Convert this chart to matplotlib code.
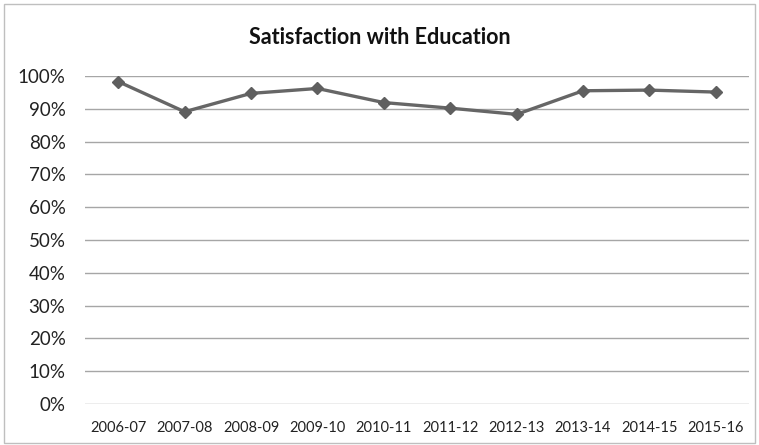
import matplotlib
matplotlib.use("Agg")
import matplotlib.pyplot as plt
from matplotlib.patches import Rectangle
from matplotlib.ticker import FuncFormatter, MultipleLocator

years = ["2006-07", "2007-08", "2008-09", "2009-10", "2010-11",
         "2011-12", "2012-13", "2013-14", "2014-15", "2015-16"]
satisfaction = [98.3, 89.1, 94.7, 96.2, 91.9, 90.2, 88.3, 95.5, 95.7, 95.1]

plt.rcParams["font.family"] = ["Lato", "DejaVu Sans"]

fig = plt.figure(figsize=(7.59, 4.45), dpi=100)
W, H = 759, 445
ax = fig.add_axes([85 / W, 1 - 404 / H, (749 - 85) / W, (404 - 76) / H])

x = list(range(len(years)))
ax.plot(x, satisfaction, color="#666666", linewidth=2.4, marker="D",
        markersize=6, markerfacecolor="#5f5f5f", markeredgecolor="#5f5f5f",
        zorder=3)

ax.set_xlim(-0.5, len(years) - 0.5)
ax.set_ylim(0, 100)
ax.yaxis.set_major_locator(MultipleLocator(10))
ax.yaxis.set_major_formatter(FuncFormatter(lambda v, p: f"{v:.0f}%"))
ax.set_xticks(x)
ax.set_xticklabels(years)
ax.grid(axis="y", color="#a6a6a6", linewidth=1)
ax.set_axisbelow(True)
for s in ax.spines.values():
    s.set_visible(False)
ax.tick_params(axis="both", length=0)
ax.tick_params(axis="y", labelsize=13.5, pad=14, labelcolor="#222222")
ax.tick_params(axis="x", labelsize=10.5, pad=12, labelcolor="#222222")

fig.text(0.5, 1 - 37 / H, "Satisfaction with Education", ha="center",
         va="center", fontsize=15.5, fontweight="bold", color="#111111")

fig.patches.append(Rectangle((4 / W, 2 / H), (W - 8) / W, (H - 6) / H,
                             transform=fig.transFigure, fill=False,
                             edgecolor="#bfbfbf", linewidth=1))

fig.savefig("out.png", dpi=100)
